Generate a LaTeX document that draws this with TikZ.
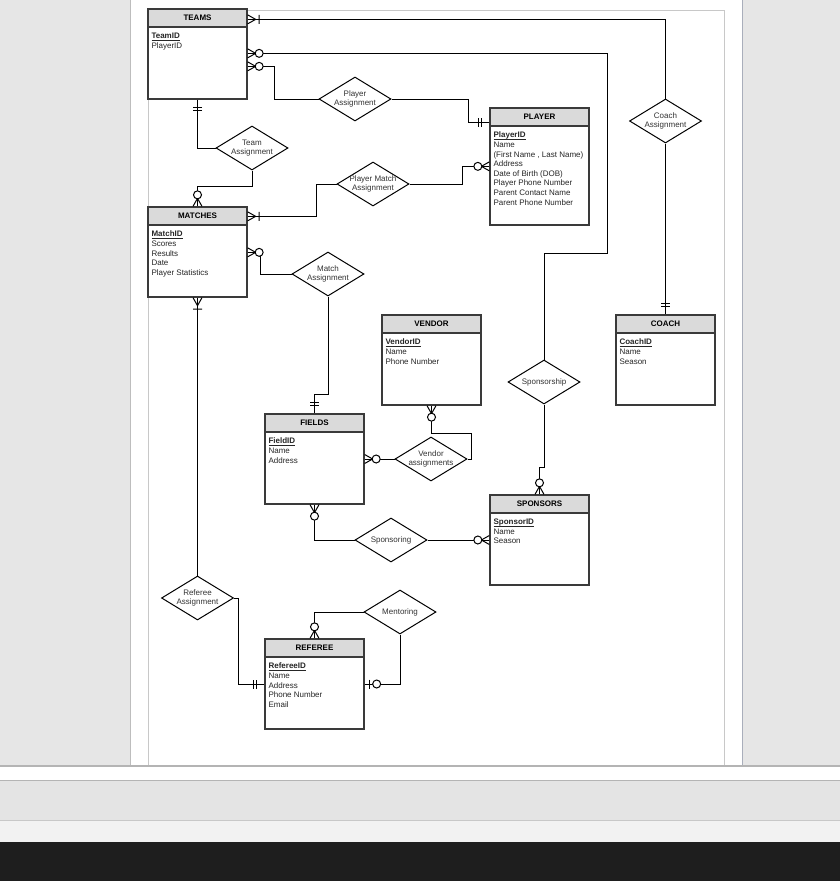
\documentclass[tikz,border=0pt]{standalone}
\usepackage{fontspec}
\setmainfont{Liberation Sans}
\usetikzlibrary{shapes.geometric}

\definecolor{winbg}{HTML}{E6E6E6}
\definecolor{pageedge}{HTML}{BDBDBD}
\definecolor{pageedgeR}{HTML}{A9AEBB}
\definecolor{framegray}{HTML}{C8C8C8}
\definecolor{barline}{HTML}{B4B4B4}
\definecolor{barfill}{HTML}{E4E4E4}
\definecolor{barlight}{HTML}{F2F2F2}
\definecolor{taskbar}{HTML}{1E1E1E}
\definecolor{headfill}{HTML}{DADADA}
\definecolor{boxline}{HTML}{3A3A3A}

% bold key attribute with a rule set just under the baseline
\newcommand\keyattr[1]{\setbox0\hbox{\textbf{#1}}\rlap{\rule[-1.7pt]{\wd0}{0.75pt}}\box0}

\newcommand\erentity[6]{%
  \node[entity, minimum height=#3] (#1) at (#2) {};
  \node[enthead, anchor=north] (#1-head) at (#1.north) {#4};
  \node[attrs, anchor=north west] (#1-attrs) at ([xshift=4pt,yshift=-24.5pt]#1.north west)
    {\keyattr{#5}\\#6};
}

\begin{document}
\begin{tikzpicture}[x=1pt,y=-1pt,
  conn/.style={draw=black, line width=1pt},
  entity/.style={draw=boxline, line width=1.3pt, fill=white, minimum width=99pt, inner sep=0pt},
  enthead/.style={draw=boxline, line width=1.3pt, fill=headfill, minimum width=99pt,
    minimum height=18pt, inner sep=0pt, font=\bfseries\fontsize{8}{9.6}\selectfont},
  attrs/.style={align=left, inner sep=0pt, text=black!85, font=\fontsize{8}{9.6}\selectfont},
  rel/.style={draw=black, line width=1pt, fill=white, shape=diamond, minimum width=72pt,
    minimum height=44pt, inner sep=0pt},
  reltext/.style={align=center, inner sep=0pt, text=black!80, font=\fontsize{8}{9.5}\selectfont},
  pics/manyone/.style={code={\draw[conn] (8,0) -- (0,-4.5) (8,0) -- (0,4.5) (11.5,-4.5) -- (11.5,4.5);}},
  pics/manyzero/.style={code={\draw[conn] (8,0) -- (0,-4.5) (8,0) -- (0,4.5);
    \draw[conn, fill=white] (11.5,0) circle[radius=4pt];}},
  pics/onlyone/.style={code={\draw[conn] (8,-4.5) -- (8,4.5) (11,-4.5) -- (11,4.5);}},
  pics/zeroone/.style={code={\draw[conn] (5,-4.5) -- (5,4.5);
    \draw[conn, fill=white] (12,0) circle[radius=4pt];}},
]
\useasboundingbox (0,0) rectangle (840,881);

% window and page
\fill[winbg] (0,0) rectangle (840,881);
\fill[white] (130,0) rectangle (742,766);
\draw[pageedge, line width=1pt] (130.5,0) -- (130.5,766);
\draw[pageedgeR, line width=1pt] (742,0) -- (742,766);
\draw[framegray, line width=1pt] (148.5,10) rectangle (724,765.5);
\fill[white] (0,766) rectangle (840,780);
\fill[barfill] (0,780) rectangle (840,820);
\fill[barlight] (0,820) rectangle (840,842);
\fill[taskbar] (0,842) rectangle (840,881);
\draw[barline, line width=1.2pt] (0,766) -- (840,766);
\draw[barline, line width=1.2pt] (0,780.5) -- (840,780.5);
\draw[framegray, line width=1pt] (0,820.5) -- (840,820.5);

% entities
\erentity{teams}{197.5,54}{90pt}{TEAMS}{TeamID}{PlayerID}
\erentity{player}{539.5,166.5}{117pt}{PLAYER}{PlayerID}{Name\\(First Name , Last Name)\\Address\\Date of Birth (DOB)\\Player Phone Number\\Parent Contact Name\\Parent Phone Number}
\erentity{matches}{197.5,252}{90pt}{MATCHES}{MatchID}{Scores\\Results\\Date\\Player Statistics}
\erentity{vendor}{431.5,360}{90pt}{VENDOR}{VendorID}{Name\\Phone Number}
\erentity{coach}{665.5,360}{90pt}{COACH}{CoachID}{Name\\Season}
\erentity{fields}{314.5,459}{90pt}{FIELDS}{FieldID}{Name\\Address}
\erentity{sponsors}{539.5,540}{90pt}{SPONSORS}{SponsorID}{Name\\Season}
\erentity{referee}{314.5,684}{90pt}{REFEREE}{RefereeID}{Name\\Address\\Phone Number\\Email}

% relationships
\node[rel, label={[reltext]center:{Player\\Assignment}}] (pa) at (355,99) {};
\node[rel, label={[reltext]center:{Team\\Assignment}}] (ta) at (252,148) {};
\node[rel, label={[reltext]center:{Player Match\\Assignment}}] (pma) at (373,184) {};
\node[rel, label={[reltext]center:{Match\\Assignment}}] (ma) at (328,274) {};
\node[rel, label={[reltext]center:{Coach\\Assignment}}] (ca) at (665.5,121) {};
\node[rel, label={[reltext]center:{Sponsorship}}] (sp) at (544,382) {};
\node[rel, label={[reltext]center:{Vendor\\assignments}}] (va) at (431,459) {};
\node[rel, label={[reltext]center:{Sponsoring}}] (sg) at (391,540) {};
\node[rel, label={[reltext]center:{Referee\\Assignment}}] (ra) at (197.5,598) {};
\node[rel, label={[reltext]center:{Mentoring}}] (me) at (400,612) {};

% attachment points on entity sides
\coordinate (teamsR1) at ([yshift=-11pt]teams.north east);
\coordinate (teamsR2) at ([yshift=-45pt]teams.north east);
\coordinate (teamsR3) at ([yshift=-58pt]teams.north east);
\coordinate (matchesR1) at ([yshift=-10pt]matches.north east);
\coordinate (matchesR2) at ([yshift=-46pt]matches.north east);
\coordinate (playerL1) at ([yshift=-15pt]player.north west);
\coordinate (playerL2) at ([yshift=-59pt]player.north west);
\coordinate (sbend) at (607,253);

% connectors
\draw[conn] (teamsR1) -| (ca.north);
\draw[conn] (ca.south) -- (coach.north);
\draw[conn] (teamsR2) -| (sbend) -| (sp.north);
\draw[conn] (sp.south) -- ++(0,63) -| (sponsors.north);
\draw[conn] (teamsR3) -| ([xshift=-44pt]pa.west) -- (pa.west);
\draw[conn] (pa.east) -| ([xshift=-21pt]playerL1) -- (playerL1);
\draw[conn] (teams.south) |- (ta.west);
\draw[conn] (ta.south) -- ++(0,16) -| (matches.north);
\draw[conn] (matchesR1) -| ([xshift=-20pt]pma.west) -- (pma.west);
\draw[conn] (pma.east) -| ([xshift=-27pt]playerL2) -- (playerL2);
\draw[conn] (matchesR2) -| ([xshift=-31pt]ma.west) -- (ma.west);
\draw[conn] (ma.south) -- ++(0,98) -| (fields.north);
\draw[conn] (matches.south) -- (ra.north);
\draw[conn] (ra.east) -- ++(4,0) |- (referee.west);
\draw[conn] (vendor.south) -- ++(0,28) -| ([xshift=4pt]va.east) -- (va.east);
\draw[conn] (va.west) -- (fields.east);
\draw[conn] (fields.south) |- (sg.west);
\draw[conn] (sg.east) -- (sponsors.west);
\draw[conn] (me.west) -| (referee.north);
\draw[conn] (me.south) |- (referee.east);

% cardinality marks
\pic at (teamsR1) {manyone};
\pic[rotate=90] at (coach.north) {onlyone};
\pic at (teamsR2) {manyzero};
\pic[rotate=90] at (sponsors.north) {manyzero};
\pic at (teamsR3) {manyzero};
\pic[rotate=180] at (playerL1) {onlyone};
\pic[rotate=-90] at (teams.south) {onlyone};
\pic[rotate=90] at (matches.north) {manyzero};
\pic at (matchesR1) {manyone};
\pic[rotate=180] at (playerL2) {manyzero};
\pic at (matchesR2) {manyzero};
\pic[rotate=90] at (fields.north) {onlyone};
\pic[rotate=-90] at (matches.south) {manyone};
\pic[rotate=180] at (referee.west) {onlyone};
\pic[rotate=-90] at (vendor.south) {manyzero};
\pic at (fields.east) {manyzero};
\pic[rotate=-90] at (fields.south) {manyzero};
\pic[rotate=180] at (sponsors.west) {manyzero};
\pic[rotate=90] at (referee.north) {manyzero};
\pic at (referee.east) {zeroone};
\end{tikzpicture}
\end{document}
